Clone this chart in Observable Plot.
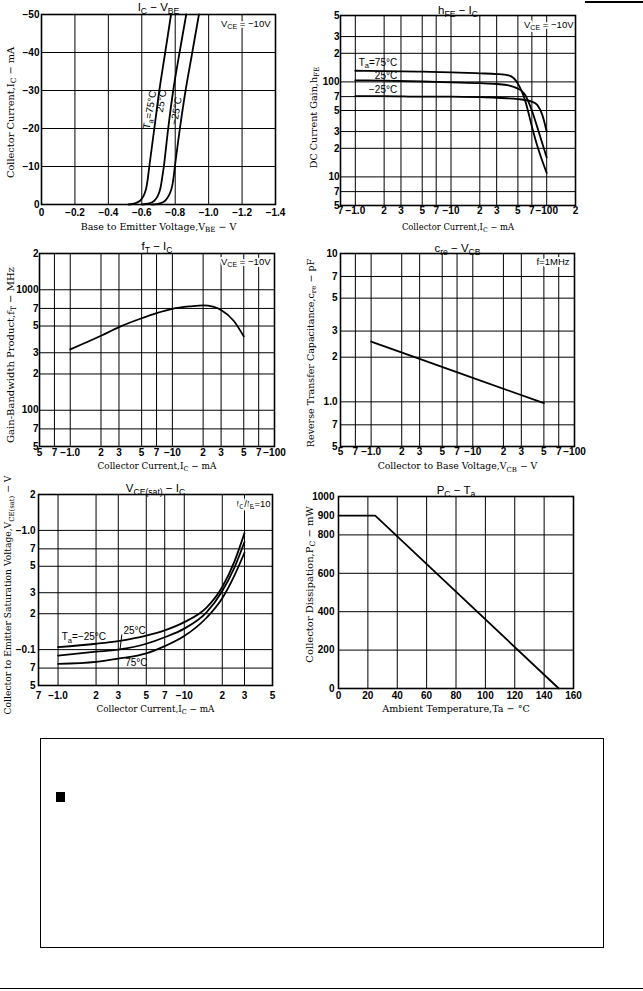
<!DOCTYPE html>
<html><head><meta charset="utf-8">
<script src="https://cdn.jsdelivr.net/npm/d3@7"></script>
<script src="https://cdn.jsdelivr.net/npm/@observablehq/plot@0.6"></script>
<style>
body{margin:0;background:#fff;}
#page{position:relative;width:643px;height:991px;overflow:hidden;background:#fff;}
.chart{position:absolute;}
.chart svg{overflow:visible;display:block;}
.deco{position:absolute;background:#000;}
</style></head><body><div id="page"></div>
<script>
// ================= DATA =================
// Chart 1: IC – VBE  (VCE = −10 V)
const vbeTicks = [0,-0.2,-0.4,-0.6,-0.8,-1.0,-1.2,-1.4];
const vbeTickLabels = ["0","−0.2","−0.4","−0.6","−0.8","−1.0","−1.2","−1.4"];
const icLinTicks = [0,-10,-20,-30,-40,-50];
const icLinTickLabels = ["0","−10","−20","−30","−40","−50"];
const icVbeCurrent = [0,-0.3,-1,-2.2,-4,-6.5,-10,-20,-30,-40,-50];
const vbeAt75C  = [-0.52,-0.56,-0.59,-0.61,-0.625,-0.635,-0.645,-0.675,-0.705,-0.740,-0.775];
const vbeAt25C  = [-0.60,-0.645,-0.675,-0.695,-0.710,-0.720,-0.732,-0.758,-0.788,-0.826,-0.866];
const vbeAtM25C = [-0.66,-0.710,-0.740,-0.760,-0.777,-0.788,-0.798,-0.828,-0.862,-0.902,-0.942];
const icVbeLabelText = ["T_{a}=75°C","25°C","−25°C"];
const icVbeLabelVbe = [-0.648,-0.718,-0.806];
const icVbeLabelIc = [-24.9,-27.2,-24.6];

// Chart 2: hFE – IC  (VCE = −10 V)
const hfeIcTicks = [0.7,1,2,3,5,7,10,20,30,50,70,100,200];
const hfeIcTickLabels = ["7","−1.0","2","3","5","7","−10","2","3","5","7","−100","2"];
const hfeIcGrid = [1,2,3,5,7,10,20,30,50,70,100];
const hfeTicks = [5,7,10,20,30,50,70,100,200,300,500];
const hfeTickLabels = ["5","7","10","2","3","5","7","100","2","3","5"];
const hfeGrid = [7,10,20,30,50,70,100,200,300];
const hfeIc75C  = [1,2,5,10,20,30,40,45,50,60,70,80,100];
const hfe75C    = [131,130,128,126,123,121,117,110,96,62,34,21,11];
const hfeIc25C  = [1,2,5,10,20,30,40,50,55,60,70,80,100];
const hfe25C    = [104,103,101,99,97,95,92,85,80,72,50,33,16];
const hfeIcM25C = [1,2,5,10,20,30,50,70,80,90,100];
const hfeM25C   = [71,71,70,70,69,68,66,62,57,45,30];
const hfeLabelText = ["T_{a}=75°C","25°C","−25°C"];
const hfeLabelIc = [2.74,2.74,2.74];
const hfeLabelValue = [160,117,82];

// Chart 3: fT – IC  (VCE = −10 V)
const logIcTicks = [0.5,0.7,1,2,3,5,7,10,20,30,50,70,100];
const logIcTickLabels = ["5","7","−1.0","2","3","5","7","−10","2","3","5","7","−100"];
const logIcGrid = [0.7,1,2,3,5,7,10,20,30,50,70];
const ftTicks = [50,70,100,200,300,500,700,1000,2000];
const ftTickLabels = ["5","7","100","2","3","5","7","1000","2"];
const ftGrid = [70,100,200,300,500,700,1000];
const ftIc = [1,2,3,5,7,10,15,20,25,30,40,50];
const ft   = [320,415,490,580,640,695,728,742,725,680,550,410];

// Chart 4: cre – VCB  (f = 1 MHz)
const creTicks = [0.5,0.7,1,2,3,5,7,10];
const creTickLabels = ["5","7","1.0","2","3","5","7","10"];
const creGrid = [0.7,1,2,3,5,7];
const creVcb = [1,3,10,50];
const cre    = [2.55,1.95,1.45,0.98];

// Chart 5: VCE(sat) – IC  (IC/IB = 10)
const satIcTicks = [0.7,1,2,3,5,7,10,20,30,50];
const satIcTickLabels = ["7","−1.0","2","3","5","7","−10","2","3","5"];
const satIcGrid = [1,2,3,5,7,10,20,30];
const satTicks = [0.05,0.07,0.1,0.2,0.3,0.5,0.7,1,2];
const satTickLabels = ["5","7","−0.1","2","3","5","7","−1.0","2"];
const satGrid = [0.07,0.1,0.2,0.3,0.5,0.7,1];
const satIc = [1,2,3,5,7,10,15,20,25,30];
const vceSatM25C = [0.105,0.112,0.118,0.131,0.145,0.170,0.225,0.335,0.55,0.95];
const vceSat25C  = [0.089,0.096,0.100,0.112,0.127,0.150,0.205,0.310,0.49,0.80];
const vceSat75C  = [0.076,0.079,0.084,0.093,0.107,0.130,0.185,0.270,0.42,0.65];
const satLabelText = ["T_{a}=−25°C","25°C","75°C"];
const satLabelIc = [1.07,3.3,3.4];
const satLabelV = [0.127,0.143,0.078];
const satLeaderIc = [3.2,3.1];
const satLeaderV = [0.133,0.101];

// Chart 6: PC – Ta
const taTicks = [0,20,40,60,80,100,120,140,160];
const taGrid = [20,40,60,80,100,120,140];
const pcTicks = [0,200,400,600,800,900,1000];
const pcGrid = [200,400,600,800];
const ta = [0,25,150];
const pc = [900,900,0];

// ================= HELPERS =================
const page = document.getElementById("page");
const SANS = "Liberation Sans, Arial, sans-serif";
const SERIF = "DejaVu Serif, serif";
const G = {stroke:"#000", strokeOpacity:1, strokeWidth:1};
const CURVE = {stroke:"#000", strokeWidth:1.8};

function fmtMap(ticks, labels){ const m = new Map(ticks.map((t,i)=>[t,labels[i]])); return d => m.get(d); }

function frameMarks(xGrid, yGrid){
  return [Plot.gridX(xGrid, G), Plot.gridY(yGrid, G)];
}
function axisMarks(xt, xl, yt, yl, xpad, ypad){
  const T = {fontFamily:SANS, fontSize:10, fontWeight:"bold", fill:"#000"};
  return [
    Plot.text(xt, {x:d=>d, text:fmtMap(xt,xl), frameAnchor:"bottom", lineAnchor:"top", textAnchor:"middle", dy:xpad, ...T}),
    Plot.text(yt, {y:d=>d, text:fmtMap(yt,yl), frameAnchor:"left", lineAnchor:"middle", textAnchor:"end", dx:-ypad, ...T})
  ];
}
function textMarks(title, note, xLabel, yLabel, o){
  const M = {lineAnchor:"middle", fill:"#000"};
  return [
    Plot.text([note], {text:d=>d, frameAnchor:"top-right", textAnchor:"end", dx:o.noteDx, dy:o.noteDy, fontFamily:SANS, fontSize:9.5, stroke:"#fff", strokeWidth:4, ...M}),
    Plot.frame({stroke:"#000", strokeWidth:1.6}),
    Plot.text([title], {text:d=>d, frameAnchor:"top", textAnchor:"middle", dy:o.titleDy, fontFamily:SANS, fontSize:11.5, ...M}),
    Plot.text([xLabel], {text:d=>d, frameAnchor:"bottom", textAnchor:"middle", dy:o.xDy, fontFamily:SERIF, fontSize:o.xFont, ...M}),
    Plot.text([yLabel], {text:d=>d, frameAnchor:"left", textAnchor:"middle", rotate:-90, dx:o.yDx, dy:o.yDy, fontFamily:SERIF, fontSize:o.yFont, ...M})
  ];
}
function subify(svg){
  svg.querySelectorAll("text").forEach(el=>{
    const t = el.textContent;
    if (!t.includes("_{")) return;
    el.textContent = "";
    const parts = t.split(/(_\{[^}]*\})/).filter(Boolean);
    let prevSub = false;
    for (const p of parts){
      const ts = document.createElementNS("http://www.w3.org/2000/svg","tspan");
      if (p.startsWith("_{")){
        ts.textContent = p.slice(2,-1);
        ts.setAttribute("font-size","75%");
        ts.setAttribute("dy", prevSub ? "0" : "0.3em");
        prevSub = true;
      } else {
        ts.textContent = p;
        if (prevSub) ts.setAttribute("dy","-0.225em");
        prevSub = false;
      }
      el.appendChild(ts);
    }
  });
}
function place(svg, left, top){
  subify(svg);
  const div = document.createElement("div");
  div.className = "chart"; div.style.left = left+"px"; div.style.top = top+"px";
  div.appendChild(svg); page.appendChild(div);
}
const baseStyle = {fontFamily:SANS, fontSize:"10px", overflow:"visible", background:"transparent", color:"#000"};
function series(xs, ys, name){ return xs.map((x,i)=>({x, y:ys[i], s:name})); }

// ================= CHART 1 =================
{
  const data = [
    ...series(vbeAt75C, icVbeCurrent, "75"),
    ...series(vbeAt25C, icVbeCurrent, "25"),
    ...series(vbeAtM25C, icVbeCurrent, "-25")
  ];
  const lbl = icVbeLabelText.map((t,i)=>({t, x:icVbeLabelVbe[i], y:icVbeLabelIc[i]}));
  place(Plot.plot({
    width:300, height:235, marginLeft:41, marginRight:25, marginTop:14, marginBottom:31,
    style:baseStyle,
    x:{domain:[0,-1.4], axis:null}, y:{domain:[0,-50], axis:null},
    marks:[
      ...frameMarks(vbeTicks.slice(1,-1), icLinTicks.slice(1,-1)),
      ...axisMarks(vbeTicks, vbeTickLabels, icLinTicks, icLinTickLabels, 4, 2),
      Plot.line(data, {x:"x", y:"y", z:"s", curve:"catmull-rom", ...CURVE}),
      Plot.text(lbl, {x:"x", y:"y", text:"t", rotate:-80, fontFamily:SANS, fontSize:10, fill:"#000"}),
      ...textMarks("I_{C} − V_{BE}", "V_{CE} = −10V", "Base to Emitter Voltage,V_{BE} − V", "Collector Current,I_{C} − mA",
        {noteDx:-5, noteDy:9, titleDy:-7, xDy:22, yDx:-31, yDy:3, xFont:9.5, yFont:9.8})
    ]
  }), 0, 0);
}

// ================= CHART 2 =================
{
  const data = [
    ...series(hfeIc75C, hfe75C, "75"),
    ...series(hfeIc25C, hfe25C, "25"),
    ...series(hfeIcM25C, hfeM25C, "-25")
  ];
  const lbl = hfeLabelText.map((t,i)=>({t, x:hfeLabelIc[i], y:hfeLabelValue[i]}));
  place(Plot.plot({
    width:300, height:235, marginLeft:40, marginRight:25, marginTop:15, marginBottom:30,
    style:baseStyle,
    x:{type:"log", domain:[0.7,200], axis:null}, y:{type:"log", domain:[5,500], axis:null},
    marks:[
      ...frameMarks(hfeIcGrid, hfeGrid),
      ...axisMarks(hfeIcTicks, hfeIcTickLabels, hfeTicks, hfeTickLabels, 1, 1),
      Plot.line(data, {x:"x", y:"y", z:"s", curve:"monotone-x", ...CURVE}),
      Plot.text(lbl, {x:"x", y:"y", text:"t", textAnchor:"end", fontFamily:SANS, fontSize:10, fill:"#000"}),
      ...textMarks("h_{FE} − I_{C}", "V_{CE} = −10V", "Collector Current,I_{C} − mA", "DC Current Gain,h_{FE}",
        {noteDx:-2, noteDy:9, titleDy:-5, xDy:22, yDx:-27, yDy:7, xFont:8.4, yFont:9.6})
    ]
  }), 300, 0);
}

// ================= CHART 3 =================
{
  const data = series(ftIc, ft, "ft");
  place(Plot.plot({
    width:300, height:235, marginLeft:39, marginRight:26, marginTop:18, marginBottom:24,
    style:baseStyle,
    x:{type:"log", domain:[0.5,100], axis:null}, y:{type:"log", domain:[50,2000], axis:null},
    marks:[
      ...frameMarks(logIcGrid, ftGrid),
      ...axisMarks(logIcTicks, logIcTickLabels, ftTicks, ftTickLabels, 2, 1),
      Plot.line(data, {x:"x", y:"y", curve:"monotone-x", ...CURVE}),
      ...textMarks("f_{T} − I_{C}", "V_{CE} = −10V", "Collector Current,I_{C} − mA", "Gain-Bandwidth Product,f_{T} − MHz",
        {noteDx:-4, noteDy:8.5, titleDy:-7, xDy:20, yDx:-29, yDy:5, xFont:8.9, yFont:10})
    ]
  }), 0, 235);
}

// ================= CHART 4 =================
{
  const data = series(creVcb, cre, "cre");
  place(Plot.plot({
    width:300, height:235, marginLeft:40, marginRight:26, marginTop:18, marginBottom:24,
    style:baseStyle,
    x:{type:"log", domain:[0.5,100], axis:null}, y:{type:"log", domain:[0.5,10], axis:null},
    marks:[
      ...frameMarks(logIcGrid, creGrid),
      ...axisMarks(logIcTicks, logIcTickLabels, creTicks, creTickLabels, 1, 3),
      Plot.line(data, {x:"x", y:"y", ...CURVE}),
      ...textMarks("c_{re} − V_{CB}", "f=1MHz", "Collector to Base Voltage,V_{CB} − V", "Reverse Transfer Capacitance,c_{re} − pF",
        {noteDx:-5, noteDy:8.5, titleDy:-5, xDy:20, yDx:-30, yDy:3, xFont:9.3, yFont:9.5})
    ]
  }), 300, 235);
}

// ================= CHART 5 =================
{
  const data = [
    ...series(satIc, vceSatM25C, "-25"),
    ...series(satIc, vceSat25C, "25"),
    ...series(satIc, vceSat75C, "75")
  ];
  const lbl = satLabelText.map((t,i)=>({t, x:satLabelIc[i], y:satLabelV[i]}));
  const leader = satLeaderIc.map((x,i)=>({x, y:satLeaderV[i]}));
  place(Plot.plot({
    width:300, height:250, marginLeft:38, marginRight:28, marginTop:24, marginBottom:35,
    style:baseStyle,
    x:{type:"log", domain:[0.7,50], axis:null}, y:{type:"log", domain:[0.05,2], axis:null},
    marks:[
      ...frameMarks(satIcGrid, satGrid),
      ...axisMarks(satIcTicks, satIcTickLabels, satTicks, satTickLabels, 6, 3),
      Plot.line(data, {x:"x", y:"y", z:"s", curve:"monotone-x", ...CURVE}),
      Plot.line(leader, {x:"x", y:"y", stroke:"#000", strokeWidth:1}),
      Plot.text(lbl, {x:"x", y:"y", text:"t", textAnchor:"start", fontFamily:SANS, fontSize:10, fill:"#000"}),
      ...textMarks("V_{CE(sat)} − I_{C}", "I_{C}/I_{B}=10", "Collector Current,I_{C} − mA", "Collector to Emitter Saturation Voltage,V_{CE(sat)} − V",
        {noteDx:-2, noteDy:9, titleDy:-6, xDy:24, yDx:-30, yDy:5, xFont:8.8, yFont:9.2})
    ]
  }), 0, 470);
}

// ================= CHART 6 =================
{
  const data = series(ta, pc, "pc");
  place(Plot.plot({
    width:300, height:250, marginLeft:38, marginRight:27, marginTop:26, marginBottom:32,
    style:baseStyle,
    x:{domain:[0,160], axis:null}, y:{domain:[0,1000], axis:null},
    marks:[
      ...frameMarks(taGrid, pcGrid),
      ...axisMarks(taTicks, taTicks.map(String), pcTicks, pcTicks.map(String), 3, 4),
      Plot.line(data, {x:"x", y:"y", ...CURVE}),
      ...textMarks("P_{C} − T_{a}", "", "Ambient Temperature,Ta − °C", "Collector Dissipation,P_{C} − mW",
        {noteDx:-5, noteDy:9, titleDy:-6, xDy:20, yDx:-29, yDy:-8, xFont:9.6, yFont:10})
    ]
  }), 300, 470);
}

// ================= PAGE DECORATION =================
function deco(css){ const d = document.createElement("div"); d.className="deco"; Object.assign(d.style, css); page.appendChild(d); }
deco({left:"585px", top:"1px", width:"58px", height:"1.5px"});
deco({left:"0px", top:"988px", width:"643px", height:"1.2px"});
deco({left:"56px", top:"792px", width:"9px", height:"10px"});
const box = document.createElement("div");
Object.assign(box.style, {position:"absolute", left:"40px", top:"738px", width:"562px", height:"208px", border:"1.2px solid #000", background:"transparent"});
page.appendChild(box);
</script>
</body></html>
